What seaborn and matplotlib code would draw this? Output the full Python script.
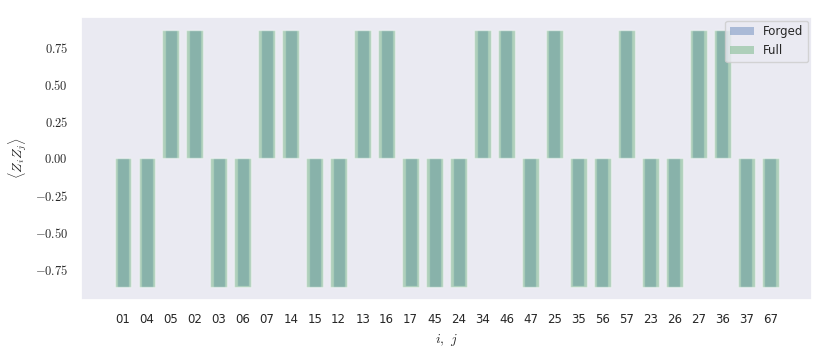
import numpy as np
import matplotlib
matplotlib.use("Agg")
import matplotlib.pyplot as plt
import matplotlib.patches as mpatches
import seaborn as sns

# Pair labels (qubits i, j)
pairs = ["01", "04", "05", "02", "03", "06", "07", "14", "15", "12", "13", "16", "17", "45",
         "24", "34", "46", "47", "25", "35", "56", "57", "23", "26", "27", "36", "37", "67"]

# <Z_i Z_j> expectation values
full_vals = [-0.866, -0.866, 0.866, 0.866, -0.866, -0.866, 0.866, 0.866, -0.866, -0.866,
             0.866, 0.866, -0.866, -0.866, -0.866, 0.866, 0.866, -0.866, 0.866, -0.866,
             -0.866, 0.866, -0.866, -0.866, 0.866, 0.866, -0.866, -0.866]
forged_vals = [-0.866, -0.866, 0.866, 0.866, -0.866, -0.862, 0.866, 0.866, -0.866, -0.866,
               0.866, 0.866, -0.862, -0.866, -0.862, 0.866, 0.866, -0.866, 0.866, -0.862,
               -0.866, 0.866, -0.866, -0.866, 0.866, 0.866, -0.866, -0.866]

sns.set_theme(style="dark")
plt.rcParams["font.family"] = ["DejaVu Sans"]
plt.rcParams["mathtext.fontset"] = "cm"

blue = sns.color_palette("deep")[0]
green = sns.color_palette("deep")[2]

fig, ax = plt.subplots(figsize=(8.3, 3.56), dpi=100)

sns.barplot(x=pairs, y=forged_vals, order=pairs, color=blue, alpha=0.4,
            width=0.5, saturation=1, ax=ax)
sns.barplot(x=pairs, y=full_vals, order=pairs, color=green, alpha=0.4,
            width=0.7, saturation=1, ax=ax)

n = len(pairs)
ax.set_xlim(-1.735, n - 1 + 1.735)
ax.set_ylim(-0.953, 0.953)

yt = [-0.75, -0.5, -0.25, 0.0, 0.25, 0.5, 0.75]
ax.set_yticks(yt)
ax.set_yticklabels([f"${v:.2f}$" for v in yt], fontsize=9)
ax.tick_params(axis="x", labelsize=8.5)

ax.set_xlabel(r"$i,\ j$", fontsize=10)
ax.set_ylabel(r"$\langle Z_i Z_j \rangle$", fontsize=10)

handles = [mpatches.Patch(facecolor=blue, alpha=0.4, edgecolor="none", label="Forged"),
           mpatches.Patch(facecolor=green, alpha=0.4, edgecolor="none", label="Full")]
ax.legend(handles=handles, loc="upper right", fontsize=8.5, borderaxespad=0.3)

fig.subplots_adjust(left=0.098, right=0.978, top=0.952, bottom=0.158)
fig.savefig("out.png", dpi=100)
